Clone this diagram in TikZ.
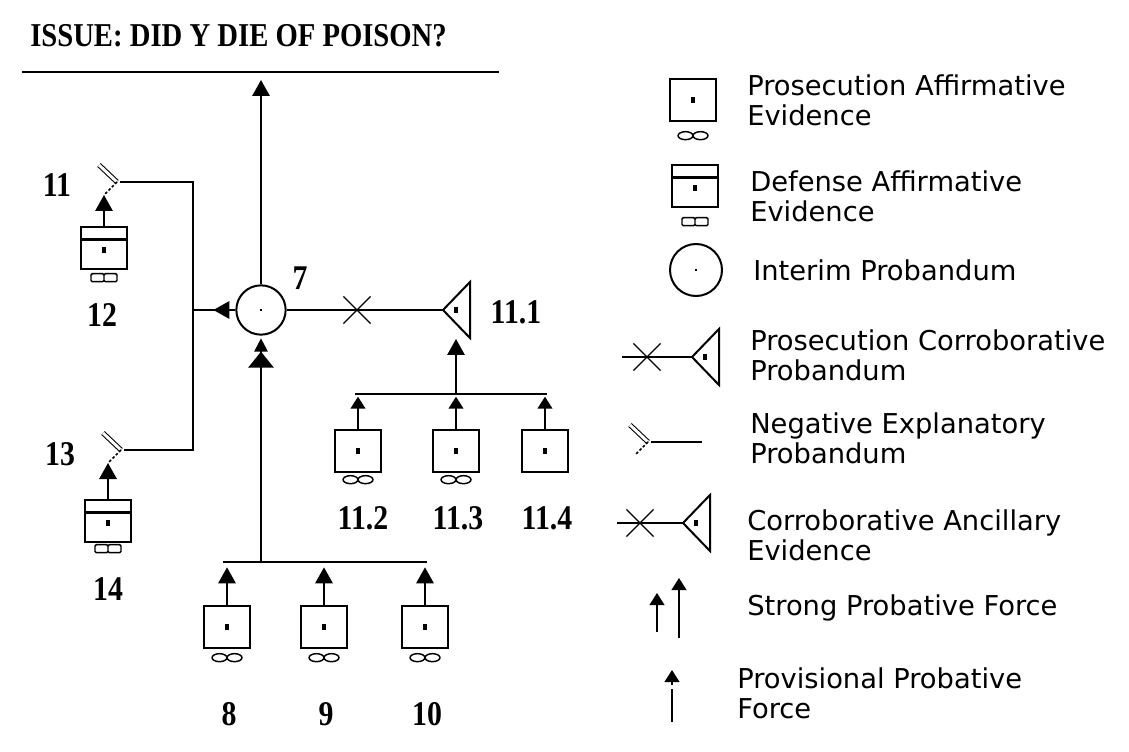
\documentclass[tikz,border=0pt]{standalone}
\usepackage{fontspec}
\setmainfont{Liberation Serif}
\newfontfamily\legendfont{DejaVu Sans}
\usetikzlibrary{positioning, arrows.meta, calc, shapes.misc}

% goggles under an evidence box
\newcommand{\progog}[2][9]{%
  \draw[line width=1.1pt] ($(#2.south)+(-7.5,#1)$) ellipse [x radius=5.6pt, y radius=3pt]
                        ($(#2.south)+(7.5,#1)$) ellipse [x radius=5.6pt, y radius=3pt];}
\newcommand{\defgog}[2][4]{%
  \draw[line width=1.1pt, rounded corners=1pt] ($(#2.south)+(-13,#1)$) rectangle ($(#2.south)+(0,#1+8)$)
                        ($(#2.south)+(0,#1)$) rectangle ($(#2.south)+(13,#1+8)$);}
% corroborative triangle, tip at #1
\newcommand{\cortri}[1]{%
  \draw[wire] (#1) -- ++(27,-28) -- ++(0,56) -- cycle;
  \fill ($(#1)+(11,-3)$) rectangle ++(4,6);}
% negative explanatory chevron, vertex at #1
\newcommand{\negsym}[1]{%
  \draw[line width=0.8pt, double, double distance=2.2pt] (#1) -- ++(-18,-17);
  \draw[line width=1.1pt, dash pattern=on 2pt off 1.5pt] (#1) -- ++(-13,13);}
% tall narrow bold label
\newcommand{\tallnum}[1]{\scalebox{0.86}[1]{#1}}

\begin{document}
\begin{tikzpicture}[x=0.75pt, y=-0.75pt,
    wire/.style={line width=1.5pt},
    prov/.style={wire, -{Triangle[length=12pt,width=13pt]}, shorten >=#1},
    prov/.default=0pt,
    sprov/.style={wire, -{Triangle[length=9pt,width=11pt]}, shorten >=#1},
    sprov/.default=0pt,
    strongarr/.style={wire, -{Triangle[length=12pt,width=19pt] Triangle[length=10pt,width=10pt,sep=-5pt]}, shorten >=#1},
    evbox/.style={draw, line width=1.5pt, rectangle, minimum width=34pt, minimum height=31pt, inner sep=0pt,
      path picture={\fill ($(path picture bounding box.center)+(-1.6pt,-2.2pt)$) rectangle ++(3.2pt,4.4pt);}},
    defbox/.style={draw, line width=1.5pt, rectangle, minimum width=34pt, minimum height=31pt, inner sep=0pt,
      path picture={\fill ($(path picture bounding box.center)+(-1.6pt,-4pt)$) rectangle ++(3.2pt,4.4pt);
        \draw[line width=2.6pt] ($(path picture bounding box.north west)+(0,-9pt)$) -- ($(path picture bounding box.north east)+(0,-9pt)$);}},
    ipnode/.style={circle, draw, line width=1.5pt, minimum size=37pt, inner sep=0pt,
      path picture={\fill ($(path picture bounding box.center)+(-1.1pt,-1.1pt)$) rectangle ++(2.2pt,2.2pt);}},
    xmark/.style={draw, cross out, minimum size=19.5pt, inner sep=0pt, line width=0.9pt},
    num/.style={font=\fontsize{26}{28}\selectfont\bfseries, inner sep=0pt},
    legtext/.style={font=\legendfont\fontsize{20.5}{22.5}\selectfont, anchor=west, align=left, inner sep=0pt}]

    \useasboundingbox (0,0) rectangle (1129,752);

    % Issue
    \node[font=\fontsize{25}{28}\selectfont\bfseries, anchor=base west, inner sep=0pt] (issue) at (30,47) {\tallnum{ISSUE: DID Y DIE OF POISON?}};
    \coordinate (ulw) at (22,72);
    \coordinate (ule) at (499,72);
    \draw[wire] (ulw) -- (ule);

    % Interim probandum 7
    \node[ipnode] (c7) at (261,310) {};
    \node[num] (l7) at (300,278) {\tallnum{7}};
    \draw[prov=6pt] (c7.north) -- (c7.north |- ulw);

    % Corroborative probandum 11.1
    \node[xmark] (x7) at (357,310) {};
    \coordinate (t111) at (443,310);
    \draw[wire] (c7.east) -- (x7.center) -- (t111);
    \cortri{t111}
    \node[num] (l111) at (516,312) {\tallnum{11.1}};
    \coordinate (t111b) at (456,339);

    % 11.2 - 11.4
    \coordinate (bar2w) at (355,394);
    \coordinate (bar2e) at (547,394);
    \draw[wire] (bar2w) -- (bar2e);
    \node[evbox] (b112) at (358,451) {};
    \node[evbox] (b113) at (456,451) {};
    \node[evbox] (b114) at (545,451) {};
    \progog[7]{b112}
    \progog[7]{b113}
    \draw[sprov=2pt] (b112.north) -- (b112.north |- bar2w);
    \draw[sprov=2pt] (b113.north) -- (b113.north |- bar2w);
    \draw[sprov=2pt] (b114.north) -- (b114.north |- bar2w);
    \draw[prov] (b113.north |- bar2w) -- (t111b);
    \node[num] (l112) at (363,518) {\tallnum{11.2}};
    \node[num] (l113) at (458,518) {\tallnum{11.3}};
    \node[num] (l114) at (547,518) {\tallnum{11.4}};

    % 8 - 10
    \coordinate (bar1w) at (223,562);
    \coordinate (bar1e) at (427,562);
    \draw[wire] (bar1w) -- (bar1e);
    \draw[strongarr=7pt] (bar1w -| c7) -- (c7.south);
    \foreach \n/\x in {8/227, 9/324, 10/425} {
        \node[evbox] (b\n) at (\x,627) {};
        \progog{b\n}
        \draw[prov=4pt] (b\n.north) -- (b\n.north |- bar1w);
        \node[num] (l\n) at (\x+2,714) {\tallnum{\n}};
    }

    % 11 / 12 and 13 / 14
    \node[defbox] (b12) at (104,248) {};
    \defgog{b12}
    \node[defbox] (b14) at (108,521) {};
    \defgog[2]{b14}
    \coordinate (n11) at (117,182);
    \coordinate (n11f) at (104,195);
    \coordinate (n13) at (121,450);
    \coordinate (n13f) at (108,463);
    \negsym{n11}
    \negsym{n13}
    \draw[prov] (b12.north) -- (n11f);
    \draw[prov] (b14.north) -- (n13f);
    \coordinate (j11) at (193,182);
    \coordinate (j13) at (193,450);
    \draw[wire] ($(n11)+(3,0)$) -- (j11) -- (j13) -- ($(n13)+(3,0)$);
    \draw[wire] (c7.west) -- (c7.west -| j11);
    \draw[wire, -{Triangle[length=12pt,width=13pt]}] (c7.west) -- ++(-22,0);
    \node[num] (l11) at (57,185) {\tallnum{11}};
    \node[num] (l12) at (102,315) {\tallnum{12}};
    \node[num] (l13) at (60,454) {\tallnum{13}};
    \node[num] (l14) at (108,589) {\tallnum{14}};

    % Legend
    \node[evbox] (lgpa) at (693,100) {};
    \progog[14]{lgpa}
    \node[legtext] (lgpat) at (747,100) {Prosecution Affirmative\\Evidence};

    \node[defbox] (lgda) at (695,186) {};
    \defgog[10]{lgda}
    \node[legtext] (lgdat) at (750,196) {Defense Affirmative\\Evidence};

    \node[ipnode, minimum size=39pt] (lgip) at (696,270) {};
    \node[legtext] (lgipt) at (753,270) {Interim Probandum};

    \coordinate (lgpcs) at (622,357);
    \coordinate (lgpct) at (692,357);
    \node[xmark] (lgpcx) at (647,357) {};
    \draw[wire] (lgpcs) -- (lgpct);
    \cortri{lgpct}
    \node[legtext] (lgpctx) at (750,355) {Prosecution Corroborative\\Probandum};

    \coordinate (lgne) at (648,442);
    \coordinate (lgnee) at (702,442);
    \negsym{lgne}
    \draw[wire] ($(lgne)+(3,0)$) -- (lgnee);
    \node[legtext] (lgnet) at (750,438) {Negative Explanatory\\Probandum};

    \coordinate (lgcas) at (617,523);
    \coordinate (lgcat) at (683,523);
    \node[xmark] (lgcax) at (640,523) {};
    \draw[wire] (lgcas) -- (lgcat);
    \cortri{lgcat}
    \node[legtext] (lgcatx) at (747,535) {Corroborative Ancillary\\Evidence};

    \coordinate (lgs1a) at (657,632);
    \coordinate (lgs1b) at (657,593);
    \coordinate (lgs2a) at (679,638);
    \coordinate (lgs2b) at (679,578);
    \draw[sprov] (lgs1a) -- (lgs1b);
    \draw[sprov] (lgs2a) -- (lgs2b);
    \node[legtext] (lgst) at (747,608) {Strong Probative Force};

    \coordinate (lgpva) at (672,685);
    \coordinate (lgpvb) at (672,670);
    \coordinate (lgpvc) at (672,689);
    \coordinate (lgpvd) at (672,722);
    \draw[sprov] (lgpva) -- (lgpvb);
    \draw[wire] (lgpvc) -- (lgpvd);
    \node[legtext] (lgpvt) at (737,693) {Provisional Probative\\Force};

\end{tikzpicture}
\end{document}
